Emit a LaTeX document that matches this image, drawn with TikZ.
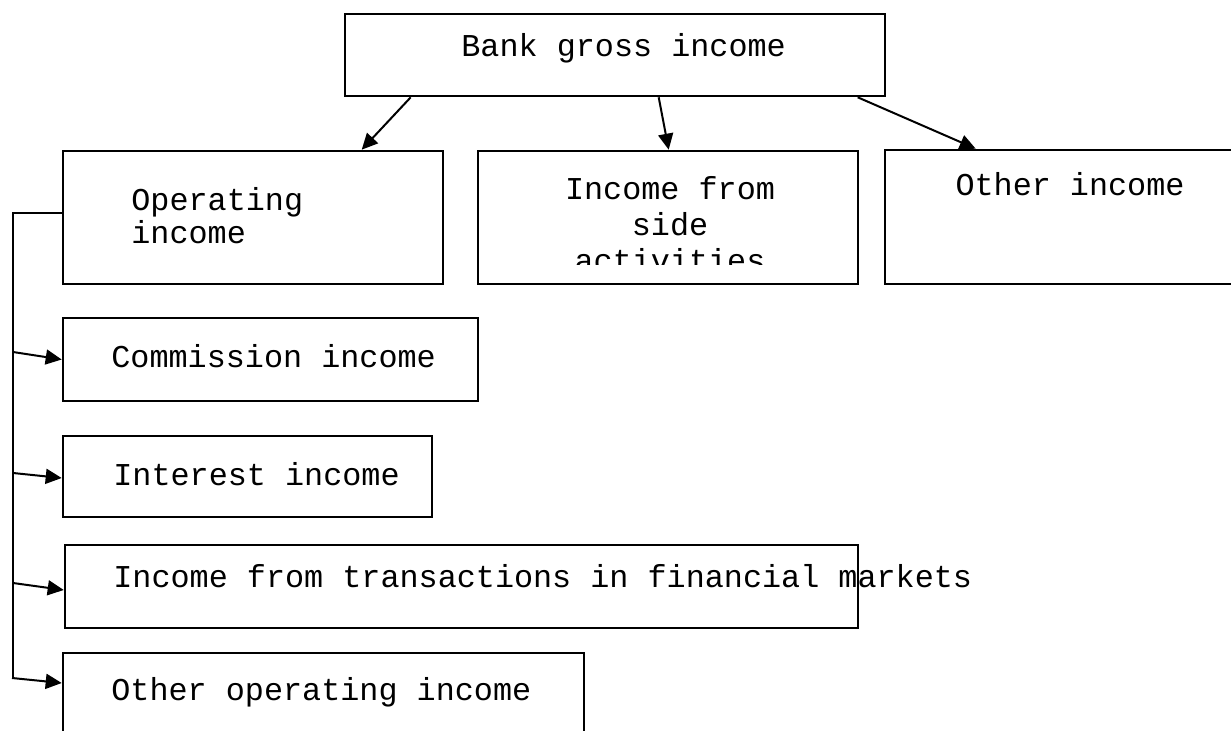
\documentclass[tikz,border=0pt]{standalone}
\usepackage{fontspec}
\setmonofont{Liberation Mono}
\usetikzlibrary{arrows.meta}
\usetikzlibrary{positioning}
\usetikzlibrary{calc}

\begin{document}
\begin{tikzpicture}[x = 0.5pt, y = -0.5pt, > = {Triangle[length = 8pt, width = 7.5pt]}, font = \ttfamily\fontsize{15.9}{16.5}\selectfont]
\tikzset{
  box/.style = {draw, line width = 1.3pt, rectangle, inner sep = 0pt},
  txt/.style = {inner sep = 0pt},
  link/.style = {->, line width = 1pt},
  bus/.style = {line width = 0.6pt},
}
\useasboundingbox (0,0) rectangle (1231,731);
% boxes
\node [box, minimum width = 270pt, minimum height = 41pt] (grossIncome) at (615,55) {};
\node [box, minimum width = 190pt, minimum height = 66.5pt] (operatingIncome) at (253,217.5) {};
\node [box, minimum width = 190pt, minimum height = 66.5pt] (sideIncome) at (668,217.5) {};
\node [box, minimum width = 180pt, minimum height = 67pt] (otherIncome) at (1065,217) {};
\node [box, minimum width = 207.5pt, minimum height = 41.5pt] (commissionIncome) at (270.5,359.5) {};
\node [box, minimum width = 184.5pt, minimum height = 40.5pt] (interestIncome) at (247.5,476.5) {};
\node [box, minimum width = 396.5pt, minimum height = 41.5pt] (marketIncome) at (461.5,586.5) {};
\node [box, minimum width = 260.5pt, minimum height = 48.5pt] (otherOperating) at (323.5,701.5) {};
% texts (base = last line)
\node [txt, anchor = base west] (grossText) at (461,57) {Bank gross income};
\node [txt, anchor = base west, align = left] (operatingText) at (131,244) {Operating\\income};
\begin{scope}
  \clip (478,152) rectangle (858,265);
  \node [txt, anchor = base, align = center, font = \ttfamily\fontsize{15.9}{18}\selectfont] (sideText) at (670,272) {Income from\\side\\activities};
\end{scope}
\node [txt, anchor = base] (otherText) at (1070,196) {Other income};
\node [txt, anchor = base west] (commissionText) at (111,368) {Commission income};
\node [txt, anchor = base west] (interestText) at (113,486) {Interest income};
\node [txt, anchor = base west] (marketText) at (113,588) {Income from transactions in financial markets};
\node [txt, anchor = base west] (otherOperatingText) at (111,700) {Other operating income};
% connectors from the top
\draw [link] ([xshift = 33.5pt]grossIncome.south west) -- ([xshift = 150pt]operatingIncome.north west);
\draw [link] ([xshift = 157.5pt]grossIncome.south west) -- ([xshift = 96pt]sideIncome.north west);
\draw [link] ([xshift = 257pt]grossIncome.south west) -- ([xshift = 46pt]otherIncome.north west);
% bus on the left
\coordinate (busTop) at (13,213);
\coordinate (busBottom) at (13,679);
\draw [bus] ([yshift = 2.25pt]operatingIncome.west) -- (busTop) -- (busBottom);
\draw [link] (13,352) -- (commissionIncome.west);
\draw [link] (13,473) -- ([yshift = -0.75pt]interestIncome.west);
\draw [link] (13,583) -- ([yshift = -1.75pt]marketIncome.west);
\draw [link] (12,678) -- ([yshift = 9.25pt]otherOperating.west);
\end{tikzpicture}
\end{document}
